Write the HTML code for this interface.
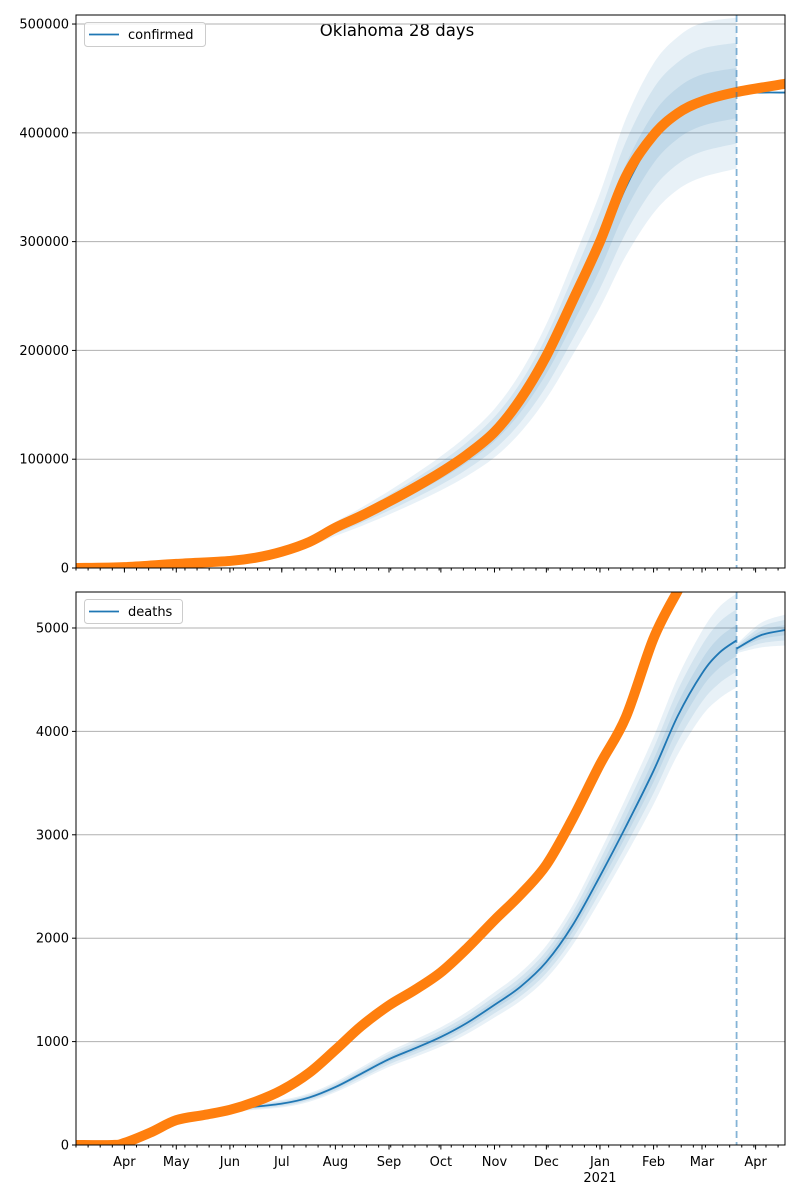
<!DOCTYPE html>
<html><head><meta charset="utf-8">
<style>
html,body{margin:0;padding:0;background:#fff;}
svg{display:block;font-family:"DejaVu Sans","Liberation Sans",sans-serif;}
</style></head>
<body>
<svg id="chart" width="800" height="1200" viewBox="0 0 800 1200" xmlns="http://www.w3.org/2000/svg">
<rect width="800" height="1200" fill="#fff"/>
<text x="397" y="36" font-size="16.5" text-anchor="middle" fill="#000">Oklahoma 28 days</text>
</svg>
<script>
// day index from 2020-03-04
const monthTickDays = [28,58,89,119,150,181,211,242,272,303,334,362,393];
const monthTickLabels = ["Apr","May","Jun","Jul","Aug","Sep","Oct","Nov","Dec","Jan","Feb","Mar","Apr"];
const forecastStartDay = 382;
const totalDays = 410;

const confTicks = [0,100000,200000,300000,400000,500000];
const confTickLabels = ["0","100000","200000","300000","400000","500000"];
const confObsDays = [0,28,58,89,104,119,135,150,165,181,196,211,226,242,257,272,287,303,318,334,348,362,382,410];
const confObsVals = [0,800,3800,6500,9500,15000,24000,37000,48000,61000,74000,88000,104000,125000,155000,195000,245000,300000,360000,398000,418000,429000,437500,445000];
const confModelDays = [0,28,58,89,104,119,135,150,165,181,196,211,226,242,257,272,287,303,318,334,348,362,382];
const confModelVals = [0,800,3800,6500,9500,15000,24000,36000,47000,60000,73000,87000,103000,124000,152000,190000,238000,292000,350000,395000,418000,430000,436500];
const confBandRel = [0.01,0.01,0.02,0.03,0.04,0.05,0.06,0.06,0.06,0.06,0.06,0.06,0.06,0.06,0.06,0.06,0.06,0.06,0.06,0.058,0.056,0.055,0.053];
const confPostDays = [382,396,410];
const confPostVals = [436500,437000,437000];

const deathTicks = [0,1000,2000,3000,4000,5000];
const deathTickLabels = ["0","1000","2000","3000","4000","5000"];
const deathObsDays = [0,21,28,43,58,74,89,104,119,135,150,165,181,196,211,226,242,257,272,287,303,318,334,348];
const deathObsVals = [0,0,20,120,240,290,340,420,530,700,920,1150,1350,1500,1670,1900,2175,2420,2710,3150,3680,4140,4900,5360];
const deathModelDays = [0,28,58,89,119,135,150,165,181,196,211,226,242,257,272,287,303,318,334,348,362,372,382];
const deathModelVals = [0,20,240,340,400,460,560,690,830,935,1045,1180,1355,1530,1770,2120,2600,3080,3620,4150,4560,4760,4880];
const deathBandRel = [0.02,0.02,0.02,0.025,0.03,0.03,0.03,0.03,0.03,0.03,0.03,0.03,0.03,0.03,0.03,0.03,0.03,0.03,0.03,0.03,0.03,0.031,0.031];
const deathPostDays = [382,396,410];
const deathPostVals = [4800,4930,4980];
const deathPostRel = [0.003,0.008,0.01];

const NS="http://www.w3.org/2000/svg";
const svg=document.getElementById('chart');
const X0=76,X1=785;
const xs=d=>X0+(X1-X0)*d/totalDays;
function mk(tag,attrs,parent){const e=document.createElementNS(NS,tag);for(const k in attrs)e.setAttribute(k,attrs[k]);(parent||svg).appendChild(e);return e;}
function smooth(pts){
  let d="M"+pts[0][0]+","+pts[0][1];
  for(let i=0;i<pts.length-1;i++){
    const p0=pts[Math.max(0,i-1)],p1=pts[i],p2=pts[i+1],p3=pts[Math.min(pts.length-1,i+2)];
    const c1=[p1[0]+(p2[0]-p0[0])/6,p1[1]+(p2[1]-p0[1])/6];
    const c2=[p2[0]-(p3[0]-p1[0])/6,p2[1]-(p3[1]-p1[1])/6];
    d+="C"+c1[0]+","+c1[1]+" "+c2[0]+","+c2[1]+" "+p2[0]+","+p2[1];
  }
  return d;
}
function panel(top,bottom,ymax,ticks,tickLabels,name,legend,obsD,obsV,modD,modV,rel,postD,postV,postRel){
  const ys=v=>bottom-(bottom-top)*v/ymax;
  const g=mk('g',{});
  
  
  const cid='clip-'+name;
  const cp=mk('clipPath',{id:cid},g);mk('rect',{x:X0,y:top,width:X1-X0,height:bottom-top},cp);
  ticks.forEach((t,i)=>{
    const y=ys(t);
    const gl=mk('line',{x1:X0,x2:X1,y1:y,y2:y,stroke:'#b0b0b0','stroke-width':1},g);
    
    
    mk('line',{x1:X0-4,x2:X0,y1:y,y2:y,stroke:'#000'},g);
    const tl=mk('text',{x:X0-7,y:y+4.5,'font-size':13,'text-anchor':'end',fill:'#000'},g);
    tl.textContent=tickLabels[i];
    
    
  });
  const pg=mk('g',{'clip-path':'url(#'+cid+')'},g);
  [3,2,1].forEach(k=>{
    const up=modD.map((d,i)=>[xs(d),ys(modV[i]*(1+k*rel[i]))]);
    const lo=modD.map((d,i)=>[xs(d),ys(modV[i]*(1-k*rel[i]))]).reverse();
    const p=mk('path',{d:smooth(up)+"L"+smooth(lo).slice(1)+"Z",fill:'#1f77b4','fill-opacity':0.1},pg);
    
    
    if(postRel){
      const up2=postD.map((d,i)=>[xs(d),ys(postV[i]*(1+k*postRel[i]))]);
      const lo2=postD.map((d,i)=>[xs(d),ys(postV[i]*(1-k*postRel[i]))]).reverse();
      const p2=mk('path',{d:smooth(up2)+"L"+smooth(lo2).slice(1)+"Z",fill:'#1f77b4','fill-opacity':0.1},pg);
      
      
    }
  });
  const ml=mk('path',{d:smooth(modD.map((d,i)=>[xs(d),ys(modV[i])])),fill:'none',stroke:'#1f77b4','stroke-width':1.8},pg);
  
  
  const pl=mk('path',{d:smooth(postD.map((d,i)=>[xs(d),ys(postV[i])])),fill:'none',stroke:'#1f77b4','stroke-width':1.8},pg);
  
  
  const ol=mk('path',{d:smooth(obsD.map((d,i)=>[xs(d),ys(obsV[i])])),fill:'none',stroke:'#ff7f0e','stroke-width':10,'stroke-linecap':'round','stroke-linejoin':'round'},pg);
  
  
  const vl=mk('line',{x1:xs(forecastStartDay),x2:xs(forecastStartDay),y1:top,y2:bottom,stroke:'#1f77b4','stroke-opacity':0.55,'stroke-width':1.8,'stroke-dasharray':'7,4'},g);
  
  
  for(let d=0;d<=totalDays;d+=7){mk('line',{x1:xs(d),x2:xs(d),y1:bottom,y2:bottom+2.5,stroke:'#000'},g);}
  monthTickDays.forEach(d=>mk('line',{x1:xs(d),x2:xs(d),y1:bottom,y2:bottom+4.5,stroke:'#000'},g));
  mk('rect',{x:X0,y:top,width:X1-X0,height:bottom-top,fill:'none',stroke:'#000','stroke-width':1},g);
  const lg=mk('g',{},g);
  
  
  const w=legend==='confirmed'?121:98;
  mk('rect',{x:84.5,y:top+7.5,width:w,height:24,rx:3,fill:'#fff','fill-opacity':0.8,stroke:'#ccc'},lg);
  mk('line',{x1:89,x2:119,y1:top+19.5,y2:top+19.5,stroke:'#1f77b4','stroke-width':1.8},lg);
  const lt=mk('text',{x:128,y:top+24,'font-size':13,fill:'#000'},lg);lt.textContent=legend;
  return ys;
}
panel(15,568,508300,confTicks,confTickLabels,'confirmed','confirmed',confObsDays,confObsVals,confModelDays,confModelVals,confBandRel,confPostDays,confPostVals,null);
panel(592,1145,5348,deathTicks,deathTickLabels,'deaths','deaths',deathObsDays,deathObsVals,deathModelDays,deathModelVals,deathBandRel,deathPostDays,deathPostVals,deathPostRel);
monthTickDays.forEach((d,i)=>{
  const t=mk('text',{x:xs(d),y:1166,'font-size':13,'text-anchor':'middle',fill:'#000'});
  t.textContent=monthTickLabels[i];
  
  
});
const yr=mk('text',{x:xs(303),y:1182,'font-size':13,'text-anchor':'middle',fill:'#000'});
yr.textContent="2021";


</script>
</body></html>
